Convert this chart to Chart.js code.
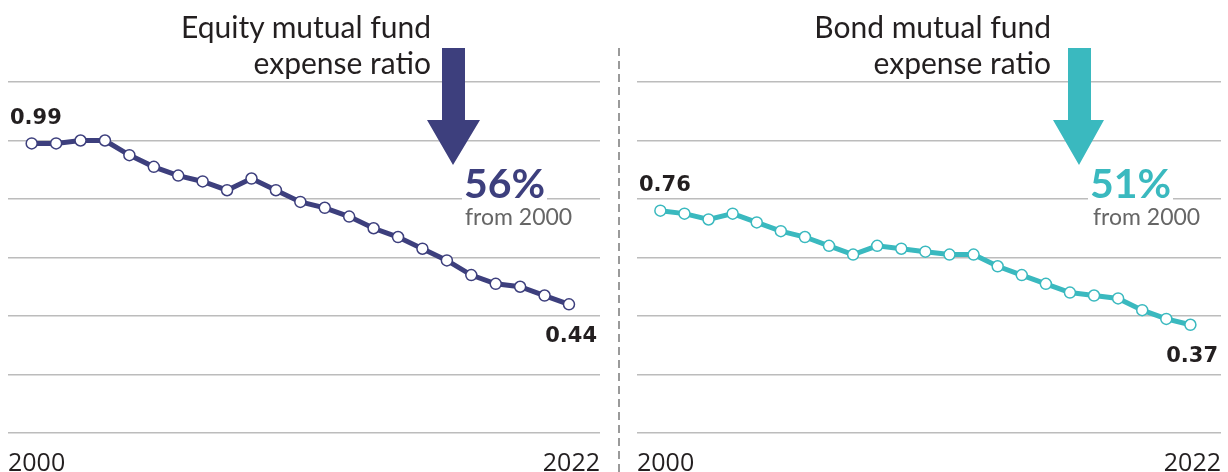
<!DOCTYPE html>
<html>
<head>
<meta charset="utf-8">
<script src="https://cdn.jsdelivr.net/npm/chart.js@4.4.1/dist/chart.umd.min.js"></script>
<style>
  html, body { margin: 0; padding: 0; background: #fff; }
  body { position: relative; width: 1228px; height: 472px; overflow: hidden; font-family: Lato, 'Open Sans', sans-serif; color: #231f20; }
  .panel { position: absolute; top: 0; height: 494px; }
  .title { position: absolute; top: 8px; font-size: 30px; line-height: 36px; text-align: right; }
  .pct { position: absolute; top: 161px; font-weight: 700; font-size: 41px; line-height: 44px; background: #fff; padding: 0 2px; }
  .from { position: absolute; top: 203px; font-size: 23px; line-height: 26px; color: #666; }
  .sep { position: absolute; left: 618px; top: 48px; width: 2px; height: 424px;
         background: repeating-linear-gradient(to bottom, #9a9a9a 0 8px, transparent 8px 13px); }
  svg.arrows { position: absolute; left: 0; top: 0; }
</style>
</head>
<body>
<div class="panel" style="left:0;width:610px"><canvas id="chart-equity"></canvas></div>
<div class="panel" style="left:628px;width:600px"><canvas id="chart-bond"></canvas></div>
<div class="sep"></div>

<svg class="arrows" width="1228" height="472">
  <polygon fill="#3d3f7d" points="442,48 465,48 465,120 480,120 453,165 427,120 442,120"/>
  <polygon fill="#3ab9bf" points="1068,48 1091,48 1091,120 1104,120 1079,165 1053,120 1068,120"/>
</svg>

<div class="title" style="left:0;width:431px">Equity mutual fund<br>expense ratio</div>
<div class="title" style="left:620px;width:431px">Bond mutual fund<br>expense ratio</div>

<div class="pct" style="left:462px;color:#3d3f7d">56%</div>
<div class="from" style="left:465px">from 2000</div>
<div class="pct" style="left:1088px;color:#3ab9bf">51%</div>
<div class="from" style="left:1093px">from 2000</div>

<script>
// years 2000 → 2022
const YEARS = [2000, 2001, 2002, 2003, 2004, 2005, 2006, 2007, 2008, 2009, 2010, 2011,
               2012, 2013, 2014, 2015, 2016, 2017, 2018, 2019, 2020, 2021, 2022];
// expense ratios, percent
const EQUITY = [0.99, 0.99, 1.00, 1.00, 0.95, 0.91, 0.88, 0.86, 0.83, 0.87, 0.83, 0.79,
                0.77, 0.74, 0.70, 0.67, 0.63, 0.59, 0.54, 0.51, 0.50, 0.47, 0.44];
const BOND = [0.76, 0.75, 0.73, 0.75, 0.72, 0.69, 0.67, 0.64, 0.61, 0.64, 0.63, 0.62,
              0.61, 0.61, 0.57, 0.54, 0.51, 0.48, 0.47, 0.46, 0.42, 0.39, 0.37];
const Y_MIN = 0;
const Y_MAX = 1.2;
const Y_STEP = 0.2;

const NAVY = '#3d3f7d';
const TEAL = '#3ab9bf';
const INK = '#231f20';
const GRID = '#bcbcbc';

// first / last value written next to the line
const endLabels = {
  id: 'endLabels',
  afterDatasetsDraw(chart) {
    const { ctx, chartArea } = chart;
    const pts = chart.getDatasetMeta(0).data;
    const vals = chart.data.datasets[0].data;
    const first = pts[0], last = pts[pts.length - 1];
    ctx.save();
    ctx.font = "bold 21px 'DejaVu Sans', sans-serif";
    ctx.fillStyle = INK;
    ctx.textBaseline = 'middle';
    ctx.textAlign = 'left';
    ctx.fillText(vals[0].y.toFixed(2), chartArea.left + 2, first.y - 25);
    ctx.textAlign = 'right';
    ctx.fillText(vals[vals.length - 1].y.toFixed(2), chartArea.right - 3, last.y + 32);
    ctx.restore();
  },
};

function makeChart(id, values, color, pad) {
  const el = document.getElementById(id);
  if (!el) return;
  new Chart(el, {
    type: 'line',
    data: {
      datasets: [{
        data: YEARS.map((y, i) => ({ x: y, y: values[i] })),
        borderColor: color,
        borderWidth: 5,
        tension: 0,
        pointRadius: 5.5,
        pointBorderWidth: 1.5,
        pointBackgroundColor: '#fff',
        pointBorderColor: color,
      }],
    },
    options: {
      responsive: true,
      maintainAspectRatio: false,
      animation: false,
      layout: { padding: pad },
      plugins: { legend: { display: false }, tooltip: { enabled: false } },
      scales: {
        x: {
          type: 'linear',
          min: YEARS[0] - 0.97,
          max: YEARS[YEARS.length - 1] + 1.27,
          grid: { display: false, drawTicks: false },
          border: { display: false },
          afterBuildTicks: s => { s.ticks = [{ value: s.min }, { value: s.max }]; },
          // labels are aligned inside, so no side room is needed for them
          afterFit: s => { s.paddingLeft = 0; s.paddingRight = 0; },
          ticks: {
            align: 'inner',
            autoSkip: false,
            maxRotation: 0,
            padding: 18,
            color: INK,
            font: { family: "'Open Sans', sans-serif", size: 25, lineHeight: 1 },
            callback: (v, i) => String(i === 0 ? YEARS[0] : YEARS[YEARS.length - 1]),
          },
        },
        y: {
          min: Y_MIN,
          max: Y_MAX,
          ticks: { display: false, stepSize: Y_STEP },
          grid: { color: GRID, lineWidth: 1.5, drawTicks: false },
          border: { display: false },
        },
      },
    },
    plugins: [endLabels],
  });
}

makeChart('chart-equity', EQUITY, NAVY, { left: 8, right: 10, top: 82, bottom: 0 });
makeChart('chart-bond', BOND, TEAL, { left: 9, right: 0, top: 82, bottom: 0 });
</script>
</body>
</html>
